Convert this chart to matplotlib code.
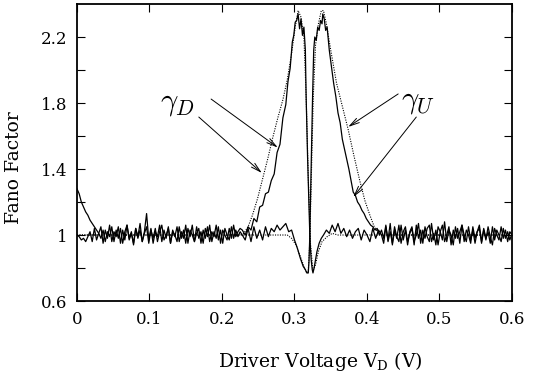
import numpy as np
import matplotlib
matplotlib.use("Agg")
import matplotlib.pyplot as plt

plt.rcParams['font.family'] = 'DejaVu Serif'
plt.rcParams['mathtext.fontset'] = 'custom'
plt.rcParams['mathtext.rm'] = 'DejaVu Serif'
plt.rcParams['mathtext.it'] = 'DejaVu Serif:italic'

# --- measured trace gamma_D (solid) ---
d_left = [1.00, 0.99, 0.97, 0.98, 0.96, 0.99, 1.02, 0.96, 1.04, 0.97, 1.01, 1.05, 0.95, 1.03, 0.98,
          1.06, 0.96, 1.02, 0.99, 1.05, 0.95, 1.03, 0.97, 1.06, 0.98, 1.02, 0.94, 1.04, 0.99, 1.07,
          0.96, 1.01, 1.05, 0.95, 1.03, 0.98, 1.04, 0.96, 1.02, 1.06, 0.97, 1.00, 1.04, 0.95, 1.03,
          0.99, 1.05, 0.96, 1.02, 0.98, 1.06, 0.95, 1.03, 1.00, 0.96, 1.05, 0.98, 1.02, 0.95, 1.04,
          0.99, 1.06, 0.96, 1.02, 0.98, 1.05, 0.95, 1.03, 1.00, 0.97, 1.04, 0.98, 1.06, 0.99, 1.02,
          1.04, 1.03]
d_peak_x = [0.232, 0.236, 0.240, 0.244, 0.248, 0.252, 0.256, 0.260, 0.264, 0.268, 0.272, 0.276, 0.280,
            0.284, 0.288, 0.291, 0.294, 0.297, 0.299, 0.301, 0.303, 0.305, 0.307, 0.309, 0.311, 0.313,
            0.315, 0.316, 0.317, 0.318, 0.319, 0.320, 0.321, 0.322, 0.323, 0.3245, 0.3255, 0.327, 0.329,
            0.331, 0.334, 0.337, 0.340, 0.344, 0.348, 0.352, 0.356, 0.360, 0.364, 0.368, 0.372, 0.376,
            0.380, 0.384, 0.388, 0.392, 0.396, 0.400, 0.404, 0.408, 0.412, 0.416]
d_peak_y = [1.00, 1.05, 1.03, 1.10, 1.08, 1.17, 1.18, 1.25, 1.26, 1.33, 1.37, 1.50, 1.55,
            1.71, 1.79, 1.93, 2.01, 2.17, 2.21, 2.29, 2.30, 2.34, 2.25, 2.31, 2.21, 2.26,
            2.12, 1.85, 1.65, 1.48, 1.33, 1.20, 1.02, 0.92, 0.85, 0.79, 0.77, 0.80, 0.85,
            0.90, 0.95, 0.98, 1.00, 1.03, 1.01, 1.06, 1.02, 1.07, 1.01, 1.04, 0.99, 1.03,
            0.98, 1.02, 1.04, 0.97, 1.03, 1.00, 0.96, 1.04, 0.98, 1.03]
d_right = [1.00, 0.95, 1.05, 0.97, 1.07, 0.94, 1.03, 0.98, 1.06, 0.95, 1.02, 1.05, 0.96, 1.01, 1.04,
           0.94, 1.06, 0.98, 1.03, 0.95, 1.05, 0.99, 0.96, 1.07, 0.97, 1.03, 0.94, 1.02, 1.06, 0.96,
           1.00, 1.05, 0.94, 1.03, 0.98, 1.04, 0.95, 1.06, 1.00, 0.96, 1.05, 0.97, 1.03, 0.95, 1.02,
           1.06, 0.96, 1.04, 0.98, 1.02, 0.95, 1.05, 0.97, 1.03, 1.00, 0.96, 1.04, 0.98, 1.02, 0.97,
           1.01]

# --- measured trace gamma_U (solid) ---
u_left = [1.28, 1.25, 1.20, 1.17, 1.14, 1.12, 1.09, 1.07, 1.05, 1.03, 1.01, 0.98, 1.03, 0.96, 1.02,
          0.99, 1.05, 0.96, 1.03, 0.98, 1.04, 0.95, 1.02, 1.06, 0.97, 1.01, 0.95, 1.04, 0.98, 1.03,
          0.96, 1.02, 1.13, 0.97, 1.04, 0.95, 1.02, 0.99, 1.06, 0.96, 1.03, 0.98, 1.05, 0.95, 1.02,
          1.00, 0.96, 1.05, 0.98, 1.03, 0.95, 1.04, 0.99, 1.06, 0.96, 1.01, 1.04, 0.95, 1.03, 0.98,
          1.05, 0.96, 1.02, 0.99, 1.06, 0.97, 1.03, 0.95, 1.04, 1.00, 0.97, 1.05, 0.98, 1.03, 0.99,
          1.02, 1.00]
u_peak_x = [0.232, 0.236, 0.240, 0.244, 0.248, 0.252, 0.256, 0.260, 0.264, 0.268, 0.272, 0.276, 0.280,
            0.284, 0.288, 0.292, 0.296, 0.300, 0.304, 0.308, 0.312, 0.315, 0.317, 0.319, 0.320, 0.321,
            0.322, 0.3235, 0.325, 0.3265, 0.328, 0.330, 0.332, 0.334, 0.336, 0.338, 0.339, 0.341, 0.343,
            0.345, 0.348, 0.351, 0.354, 0.357, 0.360, 0.363, 0.366, 0.369, 0.372, 0.375, 0.378, 0.381,
            0.384, 0.387, 0.390, 0.393, 0.396, 0.399, 0.402, 0.405, 0.408, 0.411, 0.414, 0.417]
u_peak_y = [0.97, 1.04, 0.96, 1.05, 0.98, 1.03, 0.97, 1.05, 0.99, 1.04, 1.02, 1.06, 1.03,
            1.05, 1.07, 1.02, 1.03, 0.97, 0.92, 0.86, 0.81, 0.79, 0.77, 0.77, 0.84, 0.98,
            1.20, 1.55, 1.85, 2.12, 2.20, 2.18, 2.26, 2.24, 2.30, 2.28, 2.34, 2.31, 2.24,
            2.26, 2.12, 2.02, 1.92, 1.84, 1.74, 1.68, 1.58, 1.52, 1.46, 1.40, 1.33, 1.26,
            1.24, 1.20, 1.18, 1.15, 1.13, 1.10, 1.08, 1.06, 1.05, 1.03, 1.04, 1.00]
u_right = [1.03, 0.98, 1.06, 0.96, 1.02, 0.95, 1.05, 0.99, 0.96, 1.06, 0.97, 1.03, 0.94, 1.02, 1.05,
           0.96, 1.00, 1.07, 0.95, 1.03, 0.98, 1.04, 1.06, 0.96, 1.01, 0.94, 1.05, 1.02, 0.97, 1.08,
           0.96, 1.03, 1.00, 0.94, 1.05, 0.98, 1.02, 1.06, 0.96, 1.03, 1.00, 0.95, 1.05, 0.98, 1.02,
           1.04, 0.95, 1.03, 0.97, 1.05, 0.99, 0.94, 1.04, 1.00, 0.97, 1.05, 0.98, 1.03, 0.96, 1.02,
           1.00]

# --- theory curves (dotted) ---
td_x = [0.0, 0.225, 0.230, 0.236, 0.242, 0.249, 0.256, 0.263, 0.270, 0.277, 0.284, 0.290, 0.296,
        0.301, 0.305, 0.309, 0.313, 0.316, 0.319, 0.322, 0.3255, 0.329, 0.333, 0.338, 0.345, 0.352,
        0.360, 0.6]
td_y = [1.0, 1.0, 1.01, 1.05, 1.12, 1.22, 1.34, 1.46, 1.59, 1.71, 1.82, 1.94, 2.10,
        2.26, 2.36, 2.32, 2.20, 1.85, 1.35, 0.95, 0.78, 0.82, 0.90, 0.96, 0.99, 1.01,
        1.0, 1.0]
tu_x = [0.0, 0.290, 0.296, 0.302, 0.308, 0.313, 0.317, 0.319, 0.321, 0.3235, 0.326, 0.329, 0.333,
        0.337, 0.340, 0.344, 0.350, 0.358, 0.366, 0.374, 0.382, 0.390, 0.397, 0.404, 0.410, 0.416,
        0.422, 0.6]
tu_y = [1.0, 1.0, 0.98, 0.94, 0.87, 0.81, 0.77, 0.78, 0.95, 1.40, 1.85, 2.15, 2.28,
        2.36, 2.36, 2.28, 2.12, 1.92, 1.78, 1.64, 1.48, 1.33, 1.21, 1.12, 1.05, 1.01,
        1.0, 1.0]


def trace(left, px, py, right):
    x = np.concatenate([np.linspace(0, 0.228, len(left)), px, np.linspace(0.42, 0.6, len(right))])
    y = np.concatenate([left, py, right])
    return x, y


fig = plt.figure(figsize=(5.41, 3.82), dpi=100)
ax = fig.add_axes([0.1423, 0.212, 0.8041, 0.7775])

xd, yd = trace(d_left, d_peak_x, d_peak_y, d_right)
xu, yu = trace(u_left, u_peak_x, u_peak_y, u_right)
ax.plot(xd, yd, color='k', lw=0.9)
ax.plot(xu, yu, color='k', lw=0.9)
ax.plot(td_x, td_y, color='k', lw=0.8, linestyle=(0, (1, 1.2)))
ax.plot(tu_x, tu_y, color='k', lw=0.8, linestyle=(0, (1, 1.2)))

ax.set_xlim(0, 0.6)
ax.set_ylim(0.6, 2.4)
ax.set_xticks([0, 0.1, 0.2, 0.3, 0.4, 0.5, 0.6])
ax.set_xticklabels(['0', '0.1', '0.2', '0.3', '0.4', '0.5', '0.6'])
ax.set_yticks([0.6, 1.0, 1.4, 1.8, 2.2])
ax.set_yticklabels(['0.6', '1', '1.4', '1.8', '2.2'])
ax.set_yticks([0.8, 1.2, 1.6, 2.0], minor=True)
ax.tick_params(which='both', direction='in', length=6, width=0.8, top=True, right=True,
               labelsize=12, pad=7)
for s in ax.spines.values():
    s.set_linewidth(1.3)

ax.set_xlabel('Driver Voltage V$_{\\mathrm{D}}$ (V)', fontsize=13.5)
ax.xaxis.set_label_coords(0.56, -0.165)
ax.set_ylabel('Fano Factor', fontsize=13.5)
ax.yaxis.set_label_coords(-0.125, 0.45)

# annotations
ax.text(0.139, 1.806, r'$\gamma_D$', fontsize=22, ha='center', va='center', math_fontfamily='cm')
ax.text(0.470, 1.818, r'$\gamma_U$', fontsize=22, ha='center', va='center', math_fontfamily='cm')
arr = dict(arrowstyle='->,head_length=0.7,head_width=0.18', lw=0.7, color='k', shrinkA=0, shrinkB=0)
ax.annotate('', xy=(0.277, 1.53), xytext=(0.185, 1.824), arrowprops=arr)
ax.annotate('', xy=(0.255, 1.376), xytext=(0.168, 1.715), arrowprops=arr)
ax.annotate('', xy=(0.374, 1.655), xytext=(0.443, 1.855), arrowprops=arr)
ax.annotate('', xy=(0.381, 1.23), xytext=(0.468, 1.715), arrowprops=arr)

fig.savefig('out.png', dpi=100)
